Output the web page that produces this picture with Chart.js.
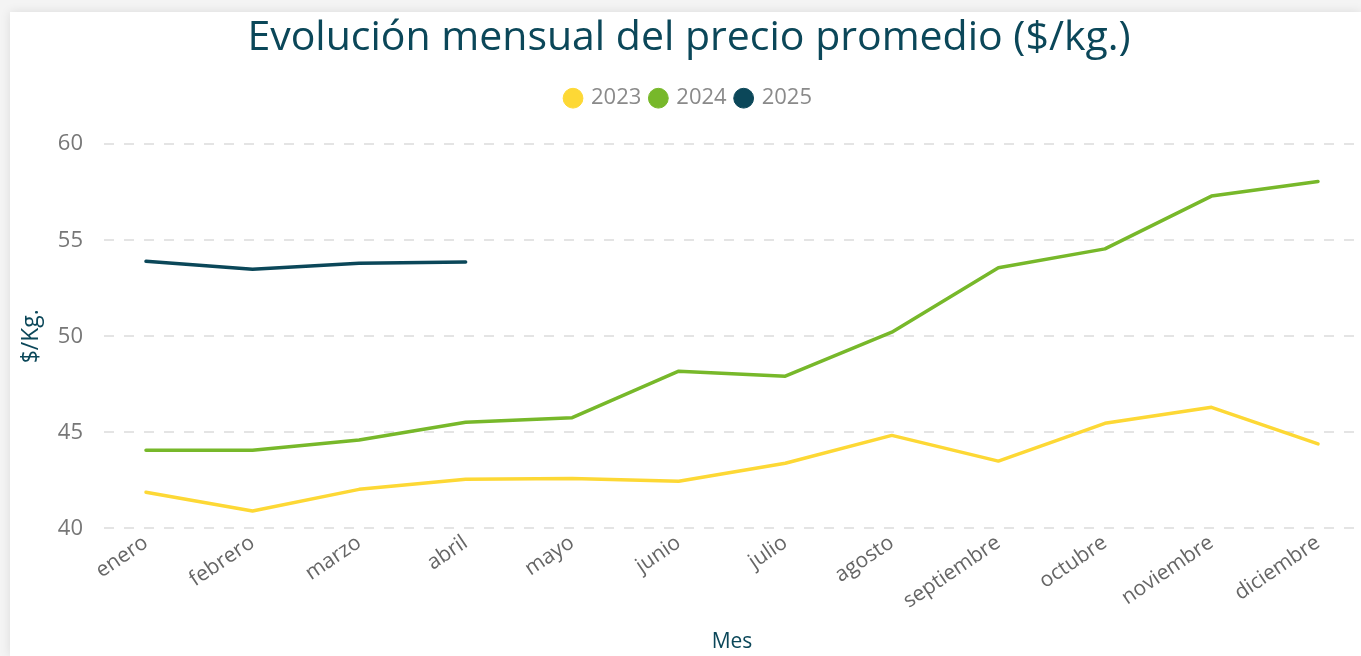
<!DOCTYPE html>
<html>
<head>
<meta charset="utf-8">
<script src="https://cdn.jsdelivr.net/npm/chart.js@4.4.1/dist/chart.umd.min.js"></script>
<style>
  html, body { margin: 0; padding: 0; background: #f4f4f4; width: 1361px; height: 656px; overflow: hidden; }
  #card { position: absolute; left: 10px; top: 12px; width: 1351px; height: 644px; background: #fff;
          box-shadow: 0 0 10px rgba(0,0,0,0.10); }
  canvas { display: block; }
</style>
</head>
<body>
<div id="card"><canvas id="c" width="1351" height="644"></canvas></div>
<script>
const months = ["enero","febrero","marzo","abril","mayo","junio","julio","agosto","septiembre","octubre","noviembre","diciembre"];
const v2023 = [41.88, 40.9, 42.03, 42.55, 42.6, 42.45, 43.39, 44.84, 43.5, 45.47, 46.3, 44.4];
const v2024 = [44.06, 44.06, 44.6, 45.52, 45.76, 48.18, 47.92, 50.21, 53.57, 54.55, 57.3, 58.06];
const v2025 = [53.9, 53.49, 53.8, 53.87];
const yTicks = [40, 45, 50, 55, 60];

const toPts = arr => arr.map((v, i) => ({ x: i, y: v }));
const FONT = "'Open Sans', 'Segoe UI', sans-serif";

const legendSpacer = {
  id: 'legendSpacer',
  beforeInit(chart) {
    const origFit = chart.legend.fit;
    chart.legend.fit = function () { origFit.call(this); this.height += 25; };
  }
};

new Chart(document.getElementById('c'), {
  type: 'line',
  data: {
    datasets: [
      { label: '2023', data: toPts(v2023), borderColor: '#FDD835', backgroundColor: '#FDD835' },
      { label: '2024', data: toPts(v2024), borderColor: '#77B82A', backgroundColor: '#77B82A' },
      { label: '2025', data: toPts(v2025), borderColor: '#0B4759', backgroundColor: '#0B4759' }
    ]
  },
  plugins: [legendSpacer],
  options: {
    responsive: false,
    animation: false,
    layout: { padding: { left: 8, right: 1, top: 2, bottom: 1 } },
    elements: {
      line: { borderWidth: 3.5, tension: 0, borderCapStyle: 'round', borderJoinStyle: 'round' },
      point: { radius: 0, hoverRadius: 0 }
    },
    plugins: {
      title: {
        display: true,
        text: 'Evolución mensual del precio promedio ($/kg.)',
        color: '#0B4759',
        font: { family: FONT, size: 41, weight: 'normal' },
        padding: { top: 0, bottom: 14 }
      },
      legend: {
        display: true,
        labels: {
          usePointStyle: true,
          pointStyle: 'circle',
          boxWidth: 14,
          boxHeight: 14,
          padding: 10,
          color: '#8a8a8a',
          font: { family: FONT, size: 22 }
        }
      },
      tooltip: { enabled: false }
    },
    scales: {
      x: {
        type: 'linear',
        min: -0.394,
        max: 11.394,
        afterBuildTicks: axis => { axis.ticks = months.map((_, i) => ({ value: i })); },
        afterFit: scale => { scale.paddingLeft = 0; scale.paddingRight = 0; },
        ticks: {
          callback: v => months[v],
          minRotation: 34,
          maxRotation: 34,
          color: '#666',
          font: { family: FONT, size: 21 },
          padding: 2,
          autoSkip: false
        },
        grid: { display: false, drawTicks: false },
        border: { display: false },
        title: {
          display: true,
          text: 'Mes',
          color: '#0B4759',
          font: { family: FONT, size: 21 },
          padding: { top: 14, bottom: 0 }
        }
      },
      y: {
        min: 40,
        max: 60,
        afterBuildTicks: axis => { axis.ticks = yTicks.map(v => ({ value: v })); },
        afterFit: scale => { scale.width = 86; },
        ticks: {
          color: '#777',
          font: { family: FONT, size: 22 },
          padding: 21
        },
        grid: { color: '#e4e4e4', lineWidth: 2, drawTicks: false },
        border: { display: false, dash: [10, 10] },
        title: {
          display: true,
          text: '$/Kg.',
          color: '#0B4759',
          font: { family: FONT, size: 23 },
          padding: { top: 0, bottom: 0 }
        }
      }
    }
  }
});
</script>
</body>
</html>
